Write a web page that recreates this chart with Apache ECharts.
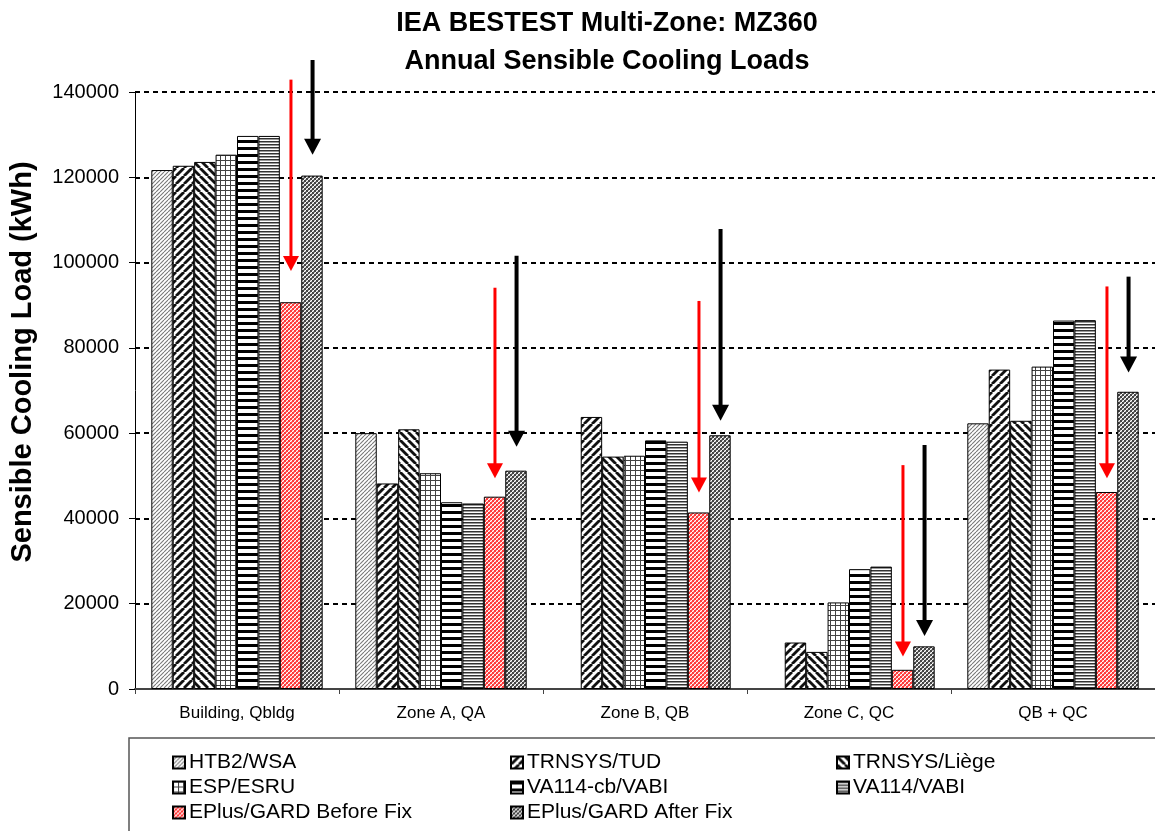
<!DOCTYPE html>
<html>
<head>
<meta charset="utf-8">
<title>MZ360 Annual Sensible Cooling Loads</title>
<script src="https://cdn.jsdelivr.net/npm/echarts@6/dist/echarts.min.js"></script>
<style>
  html, body { margin: 0; padding: 0; background: #ffffff; }
  #chart { width: 1155px; height: 831px; }
</style>
</head>
<body>
<div id="chart"></div>
<script>
// categories and series (kWh)
const categories = ["Building, Qbldg", "Zone A, QA", "Zone B, QB", "Zone C, QC", "QB + QC"];
const seriesNames = [
  "HTB2/WSA", "TRNSYS/TUD", "TRNSYS/Liège", "ESP/ESRU",
  "VA114-cb/VABI", "VA114/VABI", "EPlus/GARD Before Fix", "EPlus/GARD After Fix"
];
const htb2 = [121700, 60000, null, null, 62300];
const trnsysTud = [122700, 48200, 63800, 10900, 74900];
const trnsysLiege = [123600, 60900, 54500, 8700, 62900];
const espEsru = [125300, 50600, 54700, 20300, 75600];
const va114cb = [129700, 43800, 58300, 28100, 86400];
const va114 = [129700, 43500, 58000, 28700, 86500];
const eplusBefore = [90700, 45100, 41400, 4500, 46200];
const eplusAfter = [120400, 51200, 59500, 10000, 69700];
const yTicks = [0, 20000, 40000, 60000, 80000, 100000, 120000, 140000];

// annotation arrows (start value -> tip value)
const redArrowFrom = [142900, 94100, 91000, 52500, 94400];
const redArrowTo = [98000, 49400, 46100, 7600, 49400];
const blackArrowFrom = [147500, 101600, 107900, 57200, 96700];
const blackArrowTo = [125300, 56800, 62900, 12400, 74200];

const FONT = "'Liberation Sans', Arial, sans-serif";
const GRID_LEFT = 135;
const GRID_WIDTH = 1028;
const CAT_GAP = 0.16;

// legend: 3 columns x 3 rows, filled row by row
const legendCols = [172, 510, 836];
const legendRows = [752, 777, 802];

// pixel-map tiles for the hatch fills
function pixTile(rows, colors) {
  const c = document.createElement("canvas");
  c.width = rows[0].length;
  c.height = rows.length;
  const ctx = c.getContext("2d");
  rows.forEach((row, y) => {
    for (let x = 0; x < row.length; x++) {
      ctx.fillStyle = colors[row[x]];
      ctx.fillRect(x, y, 1, 1);
    }
  });
  return { image: c, repeat: "repeat" };
}
function diagTile(size, width, color, back) {
  const c = document.createElement("canvas");
  c.width = size;
  c.height = size;
  const ctx = c.getContext("2d");
  ctx.fillStyle = "#fff";
  ctx.fillRect(0, 0, size, size);
  ctx.strokeStyle = color;
  ctx.lineWidth = width;
  for (let k = -1; k <= 1; k++) {
    ctx.beginPath();
    if (back) {
      ctx.moveTo(k * size, 0);
      ctx.lineTo(k * size + size, size);
    } else {
      ctx.moveTo(k * size, size);
      ctx.lineTo(k * size + size, 0);
    }
    ctx.stroke();
  }
  return { image: c, repeat: "repeat" };
}

const fills = [
  diagTile(4, 1.1, "#777", false),
  diagTile(8, 2.8, "#111", false),
  diagTile(8, 2.8, "#111", true),
  pixTile(["GGGGG", "GWWWW", "GWWWW", "GWWWW", "GWWWW"], { G: "#444", W: "#fff" }),
  pixTile(["K", "K", "K", "W", "W", "W", "W"], { K: "#000", W: "#fff" }),
  pixTile(["D", "L", "W"], { D: "#333", L: "#999", W: "#fff" }),
  pixTile(["RRPW", "RRWP", "PWRR", "WPRR"], { R: "#ff3a3a", P: "#ff9c9c", W: "#ffffff" }),
  pixTile(["DDPW", "DDWP", "PWDD", "WPDD"], { D: "#444", P: "#aaa", W: "#fff" })
];

const values = [htb2, trnsysTud, trnsysLiege, espEsru, va114cb, va114, eplusBefore, eplusAfter];

const chart = echarts.init(document.getElementById("chart"), null, { renderer: "canvas" });

const series = seriesNames.map((name, i) => ({
  name: name,
  type: "bar",
  data: values[i],
  barGap: "0%",
  barCategoryGap: CAT_GAP * 100 + "%",
  itemStyle: { color: fills[i], borderColor: "#000", borderWidth: 1 },
  emphasis: { disabled: true },
  animation: false
}));

const legends = seriesNames.map((name, i) => ({
  left: legendCols[i % 3],
  top: legendRows[Math.floor(i / 3)],
  padding: 0,
  itemWidth: 12,
  itemHeight: 12,
  itemGap: 0,
  icon: "rect",
  selectedMode: false,
  data: [name],
  textStyle: { fontFamily: FONT, fontSize: 21, color: "#000", lineHeight: 20, padding: [0, 0, 0, -1] }
}));

const option = {
  animation: false,
  title: {
    text: "IEA BESTEST Multi-Zone: MZ360\nAnnual Sensible Cooling Loads",
    left: 602,
    top: 0,
    textAlign: "center",
    textStyle: { fontFamily: FONT, fontSize: 27, fontWeight: "bold", color: "#000", lineHeight: 38 }
  },
  legend: legends,
  grid: { left: GRID_LEFT, top: 92, width: GRID_WIDTH, bottom: 142 },
  xAxis: {
    type: "category",
    data: categories,
    axisLine: { lineStyle: { color: "#444", width: 2 } },
    axisTick: { show: true, length: 5, lineStyle: { color: "#444" } },
    axisLabel: { fontFamily: FONT, fontSize: 17, color: "#000", margin: 16 }
  },
  yAxis: {
    type: "value",
    min: yTicks[0],
    max: yTicks[yTicks.length - 1],
    interval: yTicks[1] - yTicks[0],
    axisLine: { show: true, lineStyle: { color: "#000", width: 1 } },
    axisTick: { show: true, length: 6, lineStyle: { color: "#000" } },
    axisLabel: { fontFamily: FONT, fontSize: 20, color: "#000", margin: 16, formatter: v => String(v) },
    splitLine: { show: true, lineStyle: { color: "#000", width: 2, type: [5, 4] } }
  },
  series: series
};
chart.setOption(option);

// arrows sit on the bar of the given series (6 = before fix, 7 = after fix)
function barCenter(catIdx, serIdx) {
  const catW = GRID_WIDTH / categories.length;
  const barW = catW * (1 - CAT_GAP) / seriesNames.length;
  const cx = chart.convertToPixel({ xAxisIndex: 0 }, catIdx);
  return cx - barW * seriesNames.length / 2 + (serIdx + 0.5) * barW;
}
function arrow(catIdx, serIdx, from, to, color, lw, headW, headL) {
  const x = barCenter(catIdx, serIdx);
  const y1 = chart.convertToPixel({ yAxisIndex: 0 }, from);
  const y2 = chart.convertToPixel({ yAxisIndex: 0 }, to);
  return {
    type: "group",
    z: 100,
    children: [
      { type: "line", shape: { x1: x, y1: y1, x2: x, y2: y2 - headL + 2 }, style: { stroke: color, lineWidth: lw } },
      { type: "polygon", shape: { points: [[x - headW / 2, y2 - headL], [x + headW / 2, y2 - headL], [x, y2]] }, style: { fill: color } }
    ]
  };
}

const graphics = [
  {
    type: "rect",
    shape: { x: 129, y: 738, width: 1100, height: 130 },
    style: { fill: "none", stroke: "#555", lineWidth: 1.5 },
    z: -1
  },
  {
    type: "text",
    x: 23,
    y: 362,
    rotation: Math.PI / 2,
    style: {
      text: "Sensible Cooling Load (kWh)",
      font: "bold 29px " + FONT,
      fill: "#000",
      align: "center",
      verticalAlign: "middle"
    }
  }
];
categories.forEach((c, i) => {
  graphics.push(arrow(i, 6, redArrowFrom[i], redArrowTo[i], "#ff0000", 3, 16, 15));
  graphics.push(arrow(i, 7, blackArrowFrom[i], blackArrowTo[i], "#000000", 4, 17, 16));
});
chart.setOption({ graphic: graphics });
</script>
</body>
</html>
